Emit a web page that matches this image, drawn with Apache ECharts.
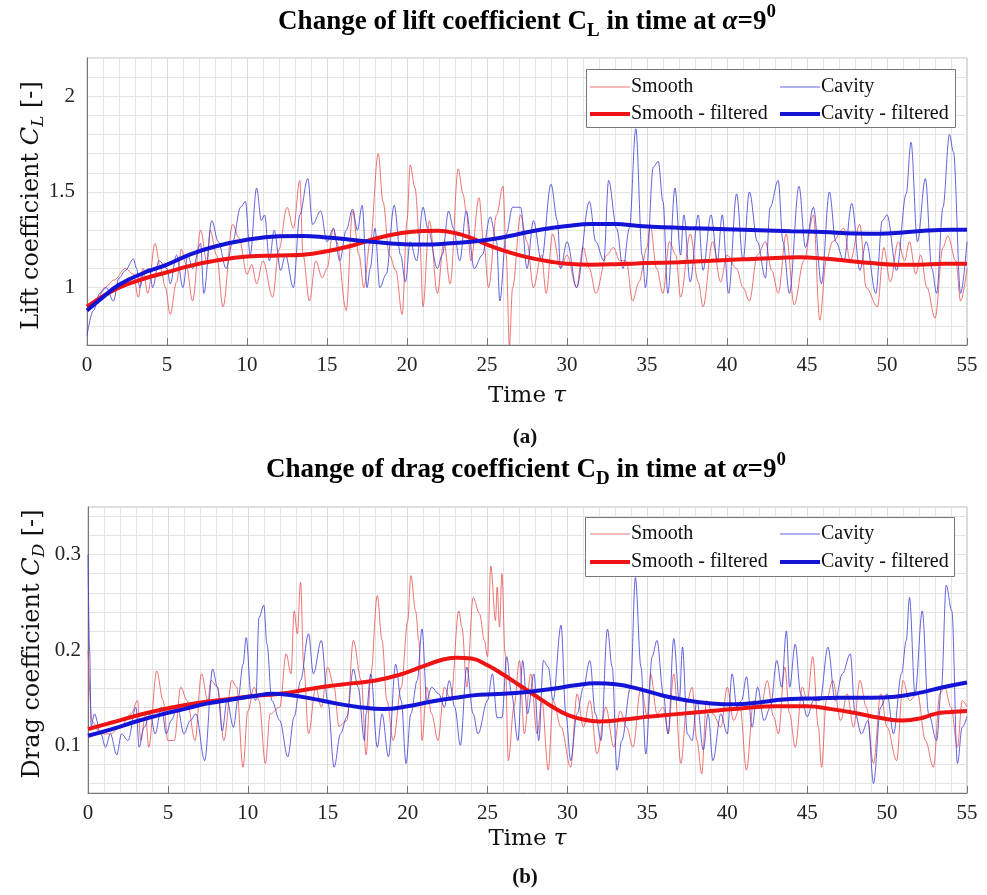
<!DOCTYPE html>
<html>
<head>
<meta charset="utf-8">
<script src="https://cdn.jsdelivr.net/npm/echarts@6/dist/echarts.min.js"></script>
<style>
html, body { margin: 0; padding: 0; background: #fff; }
#chart { width: 987px; height: 895px; }
</style>
</head>
<body>
<div id="chart"></div>
<script>
// [time, value] pairs
const liftSmooth = [[0,0.90],[0.6,0.93],[1.1,1.0],[1.7,1.04],[2.4,1.1],[2.9,1.07],[3.2,0.95],[3.5,1.1],[3.8,0.97],[4.25,1.23],[4.6,1.1],[4.9,1.0],[5.2,0.86],[5.6,1.03],[5.9,1.2],[6.2,1.12],[6.6,0.93],[7.1,1.3],[7.5,1.13],[7.7,1.3],[8.1,1.17],[8.5,0.9],[9.1,1.33],[9.5,1.26],[10.0,1.07],[10.3,1.12],[10.6,1.02],[11.0,1.14],[11.6,0.95],[12.0,1.2],[12.5,1.42],[12.9,1.31],[13.3,1.56],[13.5,1.17],[13.9,0.93],[14.3,1.14],[14.7,1.05],[15.0,1.1],[15.4,1.31],[15.6,1.24],[16.2,0.88],[16.6,1.4],[17.0,1.17],[17.3,1.0],[17.7,1.24],[18.2,1.7],[18.5,1.45],[18.9,1.17],[19.3,1.09],[19.7,0.86],[20.0,1.35],[20.2,1.64],[20.5,1.52],[20.8,1.24],[21.0,0.9],[21.4,1.35],[21.9,0.97],[22.3,1.24],[22.7,1.02],[23.2,1.62],[23.5,1.49],[23.7,1.4],[24.0,1.14],[24.5,1.47],[24.8,1.23],[25.1,1.0],[25.6,1.38],[26.0,1.53],[26.2,1.17],[26.4,0.7],[26.6,1.0],[27.1,1.38],[27.5,1.24],[27.9,1.0],[28.4,1.17],[28.7,0.97],[29.1,1.28],[29.6,1.1],[30.0,1.17],[30.6,1.0],[31.0,1.21],[31.4,1.1],[31.8,0.97],[32.5,1.17],[32.9,1.21],[33.3,1.14],[33.7,1.14],[34.1,0.93],[34.5,1.03],[35.0,1.21],[35.2,1.33],[35.6,1.1],[36.0,0.97],[36.4,1.24],[36.8,1.17],[37.1,0.95],[37.7,1.28],[38.2,1.03],[38.5,0.9],[39.1,1.24],[39.6,1.03],[40.0,1.17],[40.6,1.1],[41.0,1.0],[41.4,0.93],[41.9,1.17],[42.4,1.24],[42.8,1.09],[43.2,0.97],[43.7,1.28],[44.2,0.91],[44.8,1.14],[45.4,1.38],[45.8,0.83],[46.2,1.14],[46.6,1.24],[47.3,1.31],[47.7,1.14],[48.3,1.33],[48.7,1.0],[49.4,0.9],[49.8,1.21],[50.2,1.03],[50.7,1.24],[51.1,1.14],[51.4,1.24],[51.8,1.07],[52.1,1.17],[52.5,1.0],[53.0,0.84],[53.5,1.21],[53.8,1.27],[54.3,1.14],[54.6,0.93],[55.0,1.1]];
const liftCavity = [[0,0.75],[0.4,0.88],[0.8,0.97],[1.2,1.0],[1.65,0.93],[2.0,1.05],[2.4,1.09],[2.9,1.15],[3.1,1.1],[3.3,1.0],[3.6,1.09],[3.9,1.1],[4.1,1.0],[4.5,1.14],[5.0,1.1],[5.2,1.02],[5.6,1.17],[6.0,1.0],[6.3,1.17],[6.6,1.1],[7.1,1.23],[7.3,0.97],[7.8,1.35],[8.2,1.24],[8.7,1.1],[9.1,1.24],[9.6,1.42],[9.9,1.45],[10.2,1.17],[10.6,1.52],[10.9,1.35],[11.1,1.38],[11.4,1.14],[11.7,1.3],[12.1,1.09],[12.4,1.17],[12.9,1.0],[13.3,1.38],[13.8,1.57],[14.1,1.33],[14.6,1.4],[15.0,1.24],[15.4,1.31],[15.8,1.14],[16.2,1.3],[16.6,1.41],[16.9,1.3],[17.2,1.43],[17.5,1.0],[17.7,1.1],[18.0,1.31],[18.3,1.0],[18.7,1.07],[19.2,1.43],[19.6,1.17],[19.9,1.03],[20.2,1.24],[20.6,1.14],[21.0,1.42],[21.3,1.31],[21.9,1.1],[22.2,1.17],[22.6,1.4],[22.9,1.31],[23.3,1.14],[23.7,1.4],[24.2,1.1],[24.7,1.17],[25.2,1.37],[25.6,1.24],[25.8,0.93],[26.2,1.28],[26.6,1.42],[27.1,1.42],[27.5,1.1],[27.9,1.35],[28.4,1.14],[29.0,1.54],[29.4,1.35],[29.6,1.1],[30.0,1.24],[30.6,1.0],[31.4,1.45],[31.8,1.24],[32.3,1.14],[32.6,1.56],[33.1,1.31],[33.5,1.1],[33.9,1.31],[34.3,1.83],[34.7,1.17],[34.9,1.0],[35.4,1.63],[35.7,1.66],[36.0,1.45],[36.3,0.97],[36.75,1.52],[37.1,1.17],[37.3,1.38],[37.7,1.03],[38.2,1.38],[38.5,1.09],[39.0,1.38],[39.4,1.14],[39.7,1.38],[40.1,0.97],[40.6,1.49],[41.0,1.14],[41.4,1.5],[41.9,1.24],[42.4,1.05],[42.7,1.42],[43.2,1.56],[43.5,1.24],[43.9,0.97],[44.5,1.53],[44.9,1.21],[45.4,1.42],[45.9,1.02],[46.4,1.5],[46.8,1.24],[47.3,1.14],[47.8,1.44],[48.3,1.09],[48.7,1.24],[49.3,0.97],[49.7,1.35],[50.0,1.38],[50.6,1.09],[51.2,1.49],[51.5,1.76],[51.9,1.24],[52.4,1.57],[52.8,1.1],[53.1,0.97],[53.5,1.42],[53.9,1.8],[54.15,1.71],[54.6,0.97],[55.0,1.24]];
const liftSmoothFilt = [[0,0.9],[1,0.955],[2,1.0],[3.5,1.045],[5,1.08],[6.5,1.115],[8,1.14],[10,1.162],[12,1.168],[13.5,1.172],[15,1.19],[16.6,1.22],[18,1.255],[19.5,1.283],[21,1.296],[22,1.297],[23,1.285],[24,1.26],[25,1.225],[26,1.195],[27,1.17],[28,1.15],[29,1.135],[30,1.125],[31.5,1.12],[33,1.122],[35,1.128],[37,1.133],[39,1.14],[41,1.148],[43,1.155],[44.5,1.158],[46,1.152],[47.5,1.14],[49,1.128],[50.5,1.12],[52,1.12],[53.5,1.125],[55,1.125]];
const liftCavityFilt = [[0,0.88],[1,0.95],[2,1.015],[3.5,1.075],[5,1.12],[6.5,1.175],[8,1.215],[10,1.25],[12,1.268],[13.5,1.27],[15,1.262],[16.5,1.25],[18,1.238],[19.5,1.228],[21,1.225],[22.5,1.23],[24,1.24],[25.5,1.255],[27,1.28],[28.5,1.305],[30,1.322],[31.5,1.332],[33,1.332],[34.5,1.322],[36,1.315],[38,1.31],[40,1.305],[42,1.3],[44,1.295],[46,1.29],[48,1.283],[49.5,1.282],[51,1.288],[52.5,1.298],[54,1.302],[55,1.302]];

const dragSmooth = [[0,0.2],[0.25,0.125],[0.8,0.112],[1.4,0.112],[2.0,0.119],[2.7,0.133],[3.1,0.147],[3.3,0.105],[3.6,0.133],[3.8,0.098],[4.3,0.178],[4.7,0.147],[5.0,0.105],[5.4,0.105],[5.8,0.161],[6.2,0.147],[6.7,0.105],[7.1,0.175],[7.5,0.147],[7.7,0.168],[8.1,0.161],[8.5,0.105],[9.0,0.168],[9.3,0.161],[9.7,0.077],[10.0,0.136],[10.4,0.161],[10.7,0.147],[11.1,0.081],[11.4,0.133],[12.0,0.14],[12.4,0.196],[12.7,0.175],[12.9,0.241],[13.1,0.217],[13.3,0.271],[13.5,0.182],[13.8,0.112],[14.25,0.161],[14.6,0.14],[15.0,0.182],[15.4,0.161],[15.7,0.12],[16.2,0.126],[16.6,0.21],[17.1,0.168],[17.4,0.09],[17.7,0.175],[18.1,0.257],[18.4,0.21],[18.7,0.147],[19.1,0.105],[19.6,0.161],[20.0,0.23],[20.2,0.278],[20.5,0.241],[20.7,0.21],[20.9,0.105],[21.2,0.161],[21.5,0.133],[21.9,0.105],[22.3,0.161],[22.7,0.147],[23.2,0.241],[23.4,0.224],[23.7,0.161],[24.1,0.255],[24.5,0.238],[24.8,0.21],[25.0,0.193],[25.2,0.288],[25.5,0.231],[25.6,0.266],[25.75,0.224],[25.9,0.28],[26.1,0.196],[26.3,0.084],[26.65,0.14],[27.0,0.189],[27.3,0.112],[27.7,0.175],[28.1,0.112],[28.4,0.147],[28.8,0.074],[29.1,0.147],[29.6,0.119],[30.2,0.077],[30.6,0.154],[31.0,0.119],[31.4,0.147],[31.85,0.091],[32.4,0.14],[32.9,0.098],[33.3,0.136],[33.7,0.119],[34.1,0.098],[34.6,0.161],[35.0,0.13],[35.2,0.175],[35.6,0.133],[36.0,0.14],[36.3,0.112],[36.65,0.175],[37.1,0.081],[37.5,0.147],[37.8,0.161],[38.1,0.105],[38.4,0.07],[38.7,0.147],[39.1,0.133],[39.6,0.119],[40.0,0.161],[40.4,0.126],[40.8,0.14],[41.2,0.074],[41.65,0.147],[42.1,0.14],[42.5,0.168],[42.9,0.13],[43.2,0.112],[43.6,0.182],[43.9,0.133],[44.25,0.098],[44.7,0.161],[45.0,0.147],[45.35,0.193],[45.7,0.119],[45.9,0.077],[46.2,0.147],[46.6,0.168],[47.1,0.126],[47.5,0.154],[47.9,0.119],[48.3,0.168],[48.7,0.14],[49.15,0.081],[49.6,0.154],[50.0,0.119],[50.6,0.084],[51.0,0.168],[51.4,0.147],[51.9,0.154],[52.4,0.105],[52.9,0.077],[53.3,0.154],[53.6,0.161],[54.0,0.14],[54.4,0.098],[54.7,0.147],[55.0,0.14]];
const dragCavity = [[0,0.3],[0.1,0.2],[0.2,0.12],[0.4,0.133],[0.8,0.112],[1.1,0.098],[1.4,0.112],[1.8,0.09],[2.1,0.112],[2.5,0.105],[3.0,0.14],[3.2,0.098],[3.5,0.119],[3.9,0.133],[4.2,0.112],[4.6,0.14],[4.9,0.112],[5.2,0.126],[5.6,0.14],[6.0,0.112],[6.4,0.126],[6.75,0.133],[7.3,0.084],[7.8,0.18],[8.1,0.161],[8.4,0.115],[8.7,0.147],[9.1,0.119],[9.4,0.15],[9.7,0.185],[9.9,0.213],[10.2,0.154],[10.5,0.147],[10.7,0.234],[11.0,0.247],[11.2,0.206],[11.5,0.147],[12.0,0.126],[12.5,0.088],[12.9,0.13],[13.3,0.168],[13.8,0.217],[14.1,0.175],[14.6,0.21],[15.0,0.147],[15.4,0.077],[15.8,0.112],[16.2,0.13],[16.6,0.18],[16.9,0.161],[17.3,0.105],[17.4,0.133],[17.7,0.175],[18.1,0.098],[18.4,0.133],[18.8,0.088],[19.25,0.185],[19.6,0.147],[19.9,0.081],[20.2,0.133],[20.6,0.168],[20.9,0.222],[21.2,0.147],[21.5,0.161],[21.95,0.154],[22.3,0.14],[22.6,0.168],[22.95,0.14],[23.3,0.1],[23.7,0.182],[24.1,0.133],[24.4,0.112],[25.0,0.147],[25.3,0.175],[25.6,0.129],[25.9,0.129],[26.2,0.193],[26.5,0.154],[26.9,0.105],[27.2,0.189],[27.5,0.133],[27.9,0.175],[28.2,0.105],[28.5,0.189],[28.8,0.182],[29.1,0.147],[29.6,0.226],[29.9,0.133],[30.2,0.084],[30.6,0.133],[31.0,0.161],[31.4,0.189],[31.75,0.133],[32.1,0.105],[32.5,0.222],[32.8,0.182],[33.1,0.074],[33.4,0.105],[33.95,0.161],[34.25,0.276],[34.6,0.182],[34.9,0.091],[35.3,0.193],[35.6,0.21],[36.0,0.154],[36.3,0.112],[36.65,0.212],[37.0,0.147],[37.2,0.203],[37.5,0.112],[37.8,0.105],[38.1,0.147],[38.5,0.095],[38.8,0.133],[39.1,0.084],[39.6,0.133],[40.0,0.112],[40.3,0.175],[40.6,0.14],[40.9,0.147],[41.2,0.172],[41.55,0.119],[41.9,0.161],[42.3,0.126],[42.7,0.14],[43.1,0.189],[43.4,0.161],[43.7,0.22],[43.9,0.161],[44.25,0.206],[44.6,0.154],[45.0,0.13],[45.4,0.147],[45.8,0.147],[46.3,0.203],[46.75,0.147],[47.2,0.175],[47.7,0.196],[48.0,0.133],[48.4,0.112],[48.8,0.126],[49.15,0.06],[49.6,0.14],[50.0,0.154],[50.4,0.112],[50.9,0.175],[51.2,0.21],[51.4,0.255],[51.75,0.154],[52.2,0.241],[52.6,0.133],[53.1,0.105],[53.4,0.161],[53.7,0.268],[54.05,0.241],[54.4,0.081],[54.7,0.119],[55.0,0.13]];
const dragSmoothFilt = [[0,0.117],[1.5,0.124],[3,0.131],[4.5,0.137],[6,0.142],[7.5,0.146],[9,0.149],[10.5,0.152],[12,0.154],[13.5,0.158],[15,0.162],[16.5,0.165],[18,0.168],[19.5,0.174],[21,0.183],[22,0.189],[23,0.192],[24,0.191],[25,0.184],[26,0.174],[27,0.163],[28,0.152],[29,0.141],[30,0.132],[31,0.127],[32,0.125],[33.5,0.127],[35,0.13],[37,0.133],[39,0.136],[41,0.139],[43,0.141],[45,0.141],[46.5,0.138],[48,0.134],[49.5,0.129],[51,0.126],[52,0.128],[53,0.133],[54,0.135],[55,0.136]];
const dragCavityFilt = [[0,0.11],[1.5,0.117],[3,0.125],[4.5,0.132],[6,0.138],[7.5,0.144],[9,0.148],[10.5,0.152],[11.5,0.154],[12.5,0.153],[14,0.149],[15.5,0.144],[17,0.14],[18.5,0.138],[20,0.141],[21.5,0.146],[23,0.15],[24.5,0.153],[26,0.154],[27.5,0.156],[29,0.159],[30.5,0.163],[31.8,0.165],[33,0.164],[34.5,0.159],[36,0.152],[37.5,0.147],[39,0.144],[40.5,0.143],[42,0.145],[43.5,0.148],[45,0.149],[47,0.15],[49,0.15],[50.5,0.151],[52,0.155],[53.5,0.161],[55,0.166]];

const liftTicks = [1, 1.5, 2];
const dragTicks = [0.1, 0.2, 0.3];
const seriesNames = ['Smooth', 'Cavity', 'Smooth - filtered', 'Cavity - filtered'];

const SERIF = '"Liberation Serif", serif';
const CMR = '"DejaVu Serif", serif';
const GRID_C = '#e4e4e4';

const chart = echarts.init(document.getElementById('chart'), null, { renderer: 'canvas' });

// rich styles for sub/superscript text
const rich = (family, size, bold) => ({
	t: { fontFamily: family, fontSize: size, fontWeight: bold ? 'bold' : 'normal', color: '#111' },
	i: { fontFamily: family, fontSize: size, fontStyle: 'italic', fontWeight: bold ? 'bold' : 'normal', color: '#111' },
	sub: { fontFamily: family, fontSize: size * 0.7, fontWeight: bold ? 'bold' : 'normal', color: '#111', padding: [size * 0.7, 0, 0, 0] },
	isub: { fontFamily: family, fontSize: size * 0.7, fontStyle: 'italic', color: '#111', padding: [size * 0.6, 0, 0, 0] },
	sup: { fontFamily: family, fontSize: size * 0.7, fontWeight: bold ? 'bold' : 'normal', color: '#111', padding: [0, 0, size * 0.75, 0] },
});

const xAxisOf = (gi) => ({
	type: 'value', gridIndex: gi, min: 0, max: 55, interval: 5,
	name: '{t|Time }{i|τ}', nameLocation: 'middle', nameGap: gi === 0 ? 40 : 35,
	nameTextStyle: { rich: rich(CMR, 23, false) },
	axisLine: { onZero: false, lineStyle: { color: '#777', width: 1 } },
	axisTick: { inside: true, length: 7, lineStyle: { color: '#777' } },
	axisLabel: { fontFamily: SERIF, fontSize: 21, color: '#222', margin: 10 },
	splitLine: { show: true, lineStyle: { color: '#dadada', width: 1 } },
	minorTick: { show: false, splitNumber: 5 },
	minorSplitLine: { show: true, lineStyle: { color: GRID_C, width: 1 } },
});

const mkSeries = (name, data, gi, color, width) => ({
	name, type: 'line', data, xAxisIndex: gi, yAxisIndex: gi,
	showSymbol: false, symbol: 'none',
	smooth: width > 2 ? 0.45 : 0.35,
	smoothMonotone: width > 2 ? undefined : 'x',
	lineStyle: { color, width }, itemStyle: { color },
	animation: false, silent: true,
});

const RED_RAW = 'rgba(232,70,70,0.75)';
const BLUE_RAW = 'rgba(60,60,215,0.8)';
const RED_F = '#ee1414';
const BLUE_F = '#1414d6';

// one legend per entry so each icon can have its own line thickness
const legendItem = (name, left, top, thick) => ({
	data: [name], left, top, padding: 0, itemGap: 0,
	icon: 'rect', itemWidth: 40, itemHeight: thick ? 4 : 1.2,
	selectedMode: false, z: 20,
	textStyle: { fontFamily: SERIF, fontSize: 20, color: '#111', padding: [0, 0, 0, -4] },
});

const titleText = (x, y, text) => ({
	type: 'text', x, y, z: 30,
	style: { text, align: 'center', verticalAlign: 'middle', rich: rich(SERIF, 27, true) },
});

const option = {
	backgroundColor: '#fff',
	animation: false,
	legend: [
		legendItem(seriesNames[0], 590, 77, false),
		legendItem(seriesNames[2], 590, 104, true),
		legendItem(seriesNames[1], 780, 77, false),
		legendItem(seriesNames[3], 780, 104, true),
		legendItem(seriesNames[0], 590, 524, false),
		legendItem(seriesNames[2], 590, 552, true),
		legendItem(seriesNames[1], 780, 524, false),
		legendItem(seriesNames[3], 780, 552, true),
	],
	graphic: [
		{ type: 'rect', z: 15, shape: { x: 586.5, y: 69.5, width: 369, height: 58 }, style: { fill: '#fff', stroke: '#777', lineWidth: 1 } },
		{ type: 'rect', z: 15, shape: { x: 585.5, y: 517.5, width: 369, height: 59 }, style: { fill: '#fff', stroke: '#777', lineWidth: 1 } },
		titleText(527, 22, '{t|Change of lift coefficient C}{sub|L}{t| in time at }{i|α}{t|=9}{sup|0}'),
		titleText(526, 470, '{t|Change of drag coefficient C}{sub|D}{t| in time at }{i|α}{t|=9}{sup|0}'),
		{ type: 'text', x: 525, y: 438, z: 30, style: { text: '(a)', align: 'center', verticalAlign: 'middle', fontFamily: SERIF, fontSize: 21, fontWeight: 'bold', fill: '#111' } },
		{ type: 'text', x: 525, y: 878, z: 30, style: { text: '(b)', align: 'center', verticalAlign: 'middle', fontFamily: SERIF, fontSize: 21, fontWeight: 'bold', fill: '#111' } },
	],
	grid: [
		{ left: 87, top: 58, width: 880, height: 287, show: true, borderColor: '#bbb', borderWidth: 1, backgroundColor: '#fff' },
		{ left: 88, top: 507, width: 879, height: 286, show: true, borderColor: '#bbb', borderWidth: 1, backgroundColor: '#fff' },
	],
	xAxis: [xAxisOf(0), xAxisOf(1)],
	yAxis: [
		{
			type: 'value', gridIndex: 0, min: 0.7, max: 2.2, interval: 0.1,
			name: '{t|Lift coefficient }{i|C}{isub|L}{t| [-]}', nameLocation: 'middle', nameGap: 40, nameMoveOverlap: false,
			nameTextStyle: { rich: rich(CMR, 24, false), padding: [0, 8, 0, 0] },
			axisLine: { lineStyle: { color: '#777' } },
			axisTick: { show: false },
			axisLabel: { customValues: liftTicks, fontFamily: SERIF, fontSize: 21, color: '#222', margin: 12 },
			splitLine: { show: true, lineStyle: { color: GRID_C, width: 1 } },
		},
		{
			type: 'value', gridIndex: 1, min: 0.05, max: 0.35, interval: 0.01,
			name: '{t|Drag coefficient }{i|C}{isub|D}{t| [-]}', nameLocation: 'middle', nameGap: 40, nameMoveOverlap: false,
			nameTextStyle: { rich: rich(CMR, 24, false), padding: [0, 0, 0, 12] },
			axisLine: { lineStyle: { color: '#777' } },
			axisTick: { show: false },
			axisLabel: { customValues: dragTicks, fontFamily: SERIF, fontSize: 21, color: '#222', margin: 7 },
			splitLine: { show: true, lineStyle: { color: ['rgba(0,0,0,0)', GRID_C], width: 1 } },
		},
	],
	series: [
		mkSeries(seriesNames[0], liftSmooth, 0, RED_RAW, 1),
		mkSeries(seriesNames[1], liftCavity, 0, BLUE_RAW, 1),
		mkSeries(seriesNames[2], liftSmoothFilt, 0, RED_F, 4),
		mkSeries(seriesNames[3], liftCavityFilt, 0, BLUE_F, 4),
		mkSeries(seriesNames[0], dragSmooth, 1, RED_RAW, 1),
		mkSeries(seriesNames[1], dragCavity, 1, BLUE_RAW, 1),
		mkSeries(seriesNames[2], dragSmoothFilt, 1, RED_F, 4),
		mkSeries(seriesNames[3], dragCavityFilt, 1, BLUE_F, 4),
	],
};

chart.setOption(option);
</script>
</body>
</html>
